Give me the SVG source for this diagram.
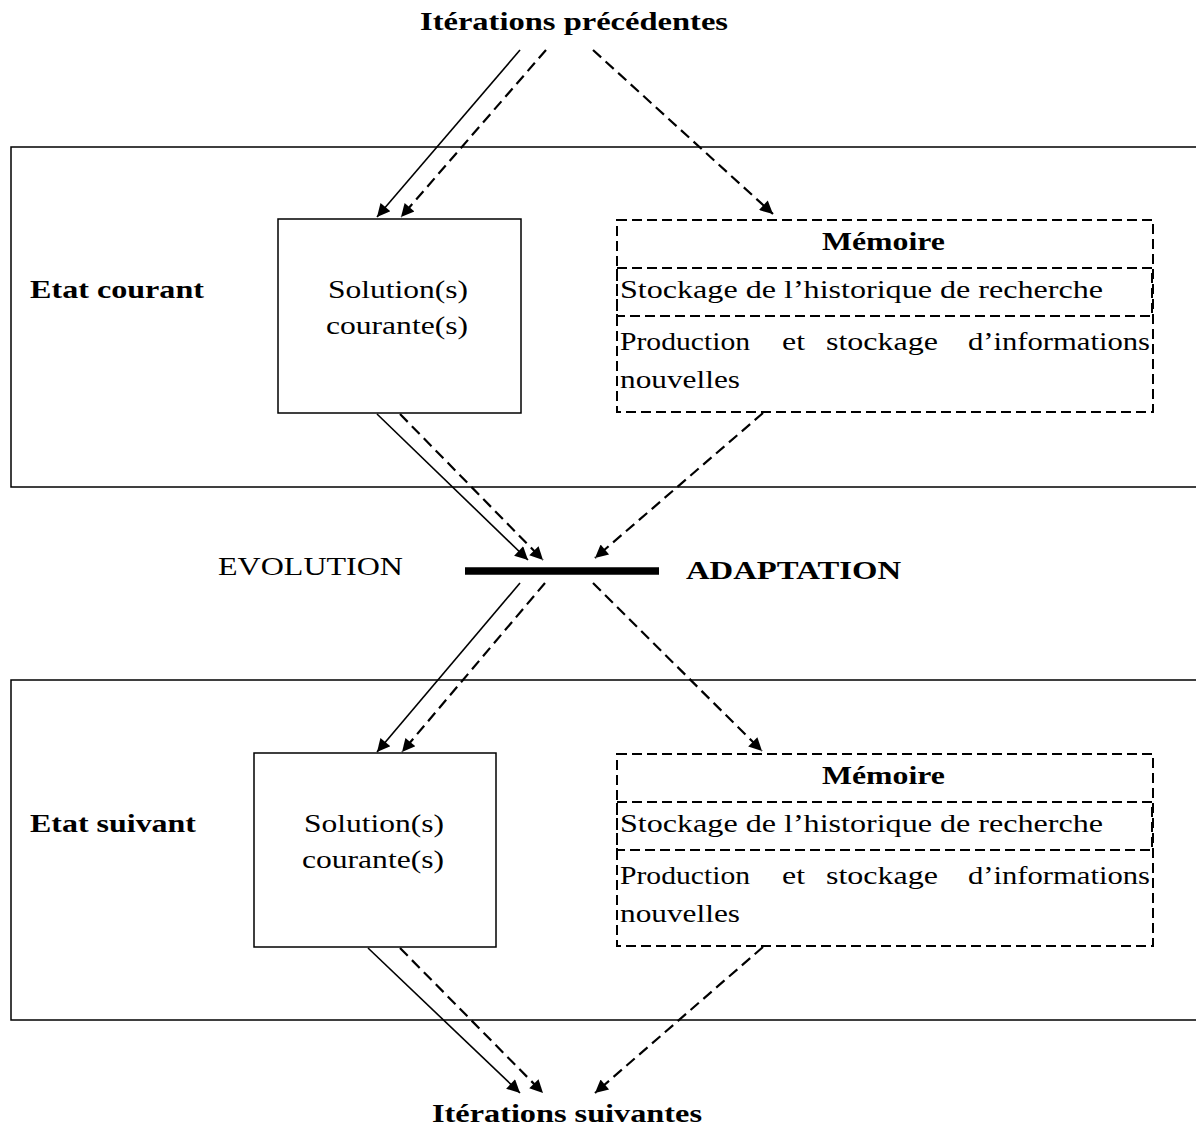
<svg xmlns="http://www.w3.org/2000/svg" width="1196" height="1132" viewBox="0 0 1196 1132">
<style>
.t{font-family:"Liberation Serif","Times New Roman",serif;font-size:25px;fill:#000}
.b{font-weight:bold}
.frame{fill:none;stroke:#000;stroke-width:1.5}
.mem{fill:none;stroke:#000;stroke-width:2;stroke-dasharray:10,5}
.s{fill:none;stroke:#000;stroke-width:1.6}
.d{fill:none;stroke:#000;stroke-width:2.2;stroke-dasharray:11,6}
</style>
<defs>
<marker id="ah" viewBox="0 0 10 10" refX="10" refY="5" markerWidth="17" markerHeight="13" markerUnits="userSpaceOnUse" orient="auto">
<path d="M0,0 L10,5 L0,10 z" fill="#000"/>
</marker>
</defs>
<rect width="1196" height="1132" fill="#fff"/>

<g id="iter-prev"><text class="t b" x="420" y="30" textLength="308" lengthAdjust="spacingAndGlyphs">Itérations précédentes</text></g>

<g id="etat-courant">
<rect class="frame" x="11" y="147" width="1200" height="340"/>
<text class="t b" x="30" y="298" textLength="174" lengthAdjust="spacingAndGlyphs">Etat courant</text>
</g>
<g id="solution1">
<rect class="frame" x="278" y="219" width="243" height="194"/>
<text class="t" x="328" y="298" textLength="140" lengthAdjust="spacingAndGlyphs">Solution(s)</text>
<text class="t" x="326" y="334" textLength="142" lengthAdjust="spacingAndGlyphs">courante(s)</text>
</g>
<g id="memoire1">
<rect class="mem" x="617" y="220" width="536" height="192"/>
<rect class="mem" x="617" y="268" width="535" height="48"/>
<text class="t b" x="822" y="250" textLength="123" lengthAdjust="spacingAndGlyphs">Mémoire</text>
<text class="t" x="620" y="298" textLength="483" lengthAdjust="spacingAndGlyphs">Stockage de l’historique de recherche</text>
<text class="t" y="350"><tspan x="620" textLength="130" lengthAdjust="spacingAndGlyphs">Production</tspan><tspan x="782" textLength="23" lengthAdjust="spacingAndGlyphs">et</tspan><tspan x="826" textLength="112" lengthAdjust="spacingAndGlyphs">stockage</tspan><tspan x="968" textLength="182" lengthAdjust="spacingAndGlyphs">d’informations</tspan></text>
<text class="t" x="620" y="388" textLength="120" lengthAdjust="spacingAndGlyphs">nouvelles</text>
</g>

<g id="bar">
<line x1="465" y1="571" x2="659" y2="571" stroke="#000" stroke-width="7.5"/>
<text class="t" x="218" y="575" textLength="185" lengthAdjust="spacingAndGlyphs">EVOLUTION</text>
<text class="t b" x="686" y="579" textLength="215" lengthAdjust="spacingAndGlyphs">ADAPTATION</text>
</g>

<g id="etat-suivant">
<rect class="frame" x="11" y="680" width="1200" height="340"/>
<text class="t b" x="30" y="832" textLength="166" lengthAdjust="spacingAndGlyphs">Etat suivant</text>
</g>
<g id="solution2">
<rect class="frame" x="254" y="753" width="242" height="194"/>
<text class="t" x="304" y="832" textLength="140" lengthAdjust="spacingAndGlyphs">Solution(s)</text>
<text class="t" x="302" y="868" textLength="142" lengthAdjust="spacingAndGlyphs">courante(s)</text>
</g>
<g id="memoire2">
<rect class="mem" x="617" y="754" width="536" height="192"/>
<rect class="mem" x="617" y="802" width="535" height="48"/>
<text class="t b" x="822" y="784" textLength="123" lengthAdjust="spacingAndGlyphs">Mémoire</text>
<text class="t" x="620" y="832" textLength="483" lengthAdjust="spacingAndGlyphs">Stockage de l’historique de recherche</text>
<text class="t" y="884"><tspan x="620" textLength="130" lengthAdjust="spacingAndGlyphs">Production</tspan><tspan x="782" textLength="23" lengthAdjust="spacingAndGlyphs">et</tspan><tspan x="826" textLength="112" lengthAdjust="spacingAndGlyphs">stockage</tspan><tspan x="968" textLength="182" lengthAdjust="spacingAndGlyphs">d’informations</tspan></text>
<text class="t" x="620" y="922" textLength="120" lengthAdjust="spacingAndGlyphs">nouvelles</text>
</g>

<g id="iter-suiv"><text class="t b" x="432" y="1122" textLength="270" lengthAdjust="spacingAndGlyphs">Itérations suivantes</text></g>

<g id="connectors">
<line class="s" x1="520" y1="50" x2="377" y2="217" marker-end="url(#ah)"/>
<line class="d" x1="546" y1="50" x2="401" y2="217" marker-end="url(#ah)"/>
<line class="d" x1="593" y1="50" x2="773" y2="214" marker-end="url(#ah)"/>

<line class="s" x1="377" y1="414" x2="528" y2="560" marker-end="url(#ah)"/>
<line class="d" x1="400" y1="414" x2="543" y2="560" marker-end="url(#ah)"/>
<line class="d" x1="763" y1="413" x2="595" y2="558" marker-end="url(#ah)"/>

<line class="s" x1="520" y1="583" x2="377" y2="752" marker-end="url(#ah)"/>
<line class="d" x1="545" y1="583" x2="402" y2="752" marker-end="url(#ah)"/>
<line class="d" x1="593" y1="583" x2="762" y2="751" marker-end="url(#ah)"/>

<line class="s" x1="368" y1="948" x2="520" y2="1093" marker-end="url(#ah)"/>
<line class="d" x1="400" y1="948" x2="543" y2="1093" marker-end="url(#ah)"/>
<line class="d" x1="763" y1="947" x2="595" y2="1093" marker-end="url(#ah)"/>
</g>
</svg>
